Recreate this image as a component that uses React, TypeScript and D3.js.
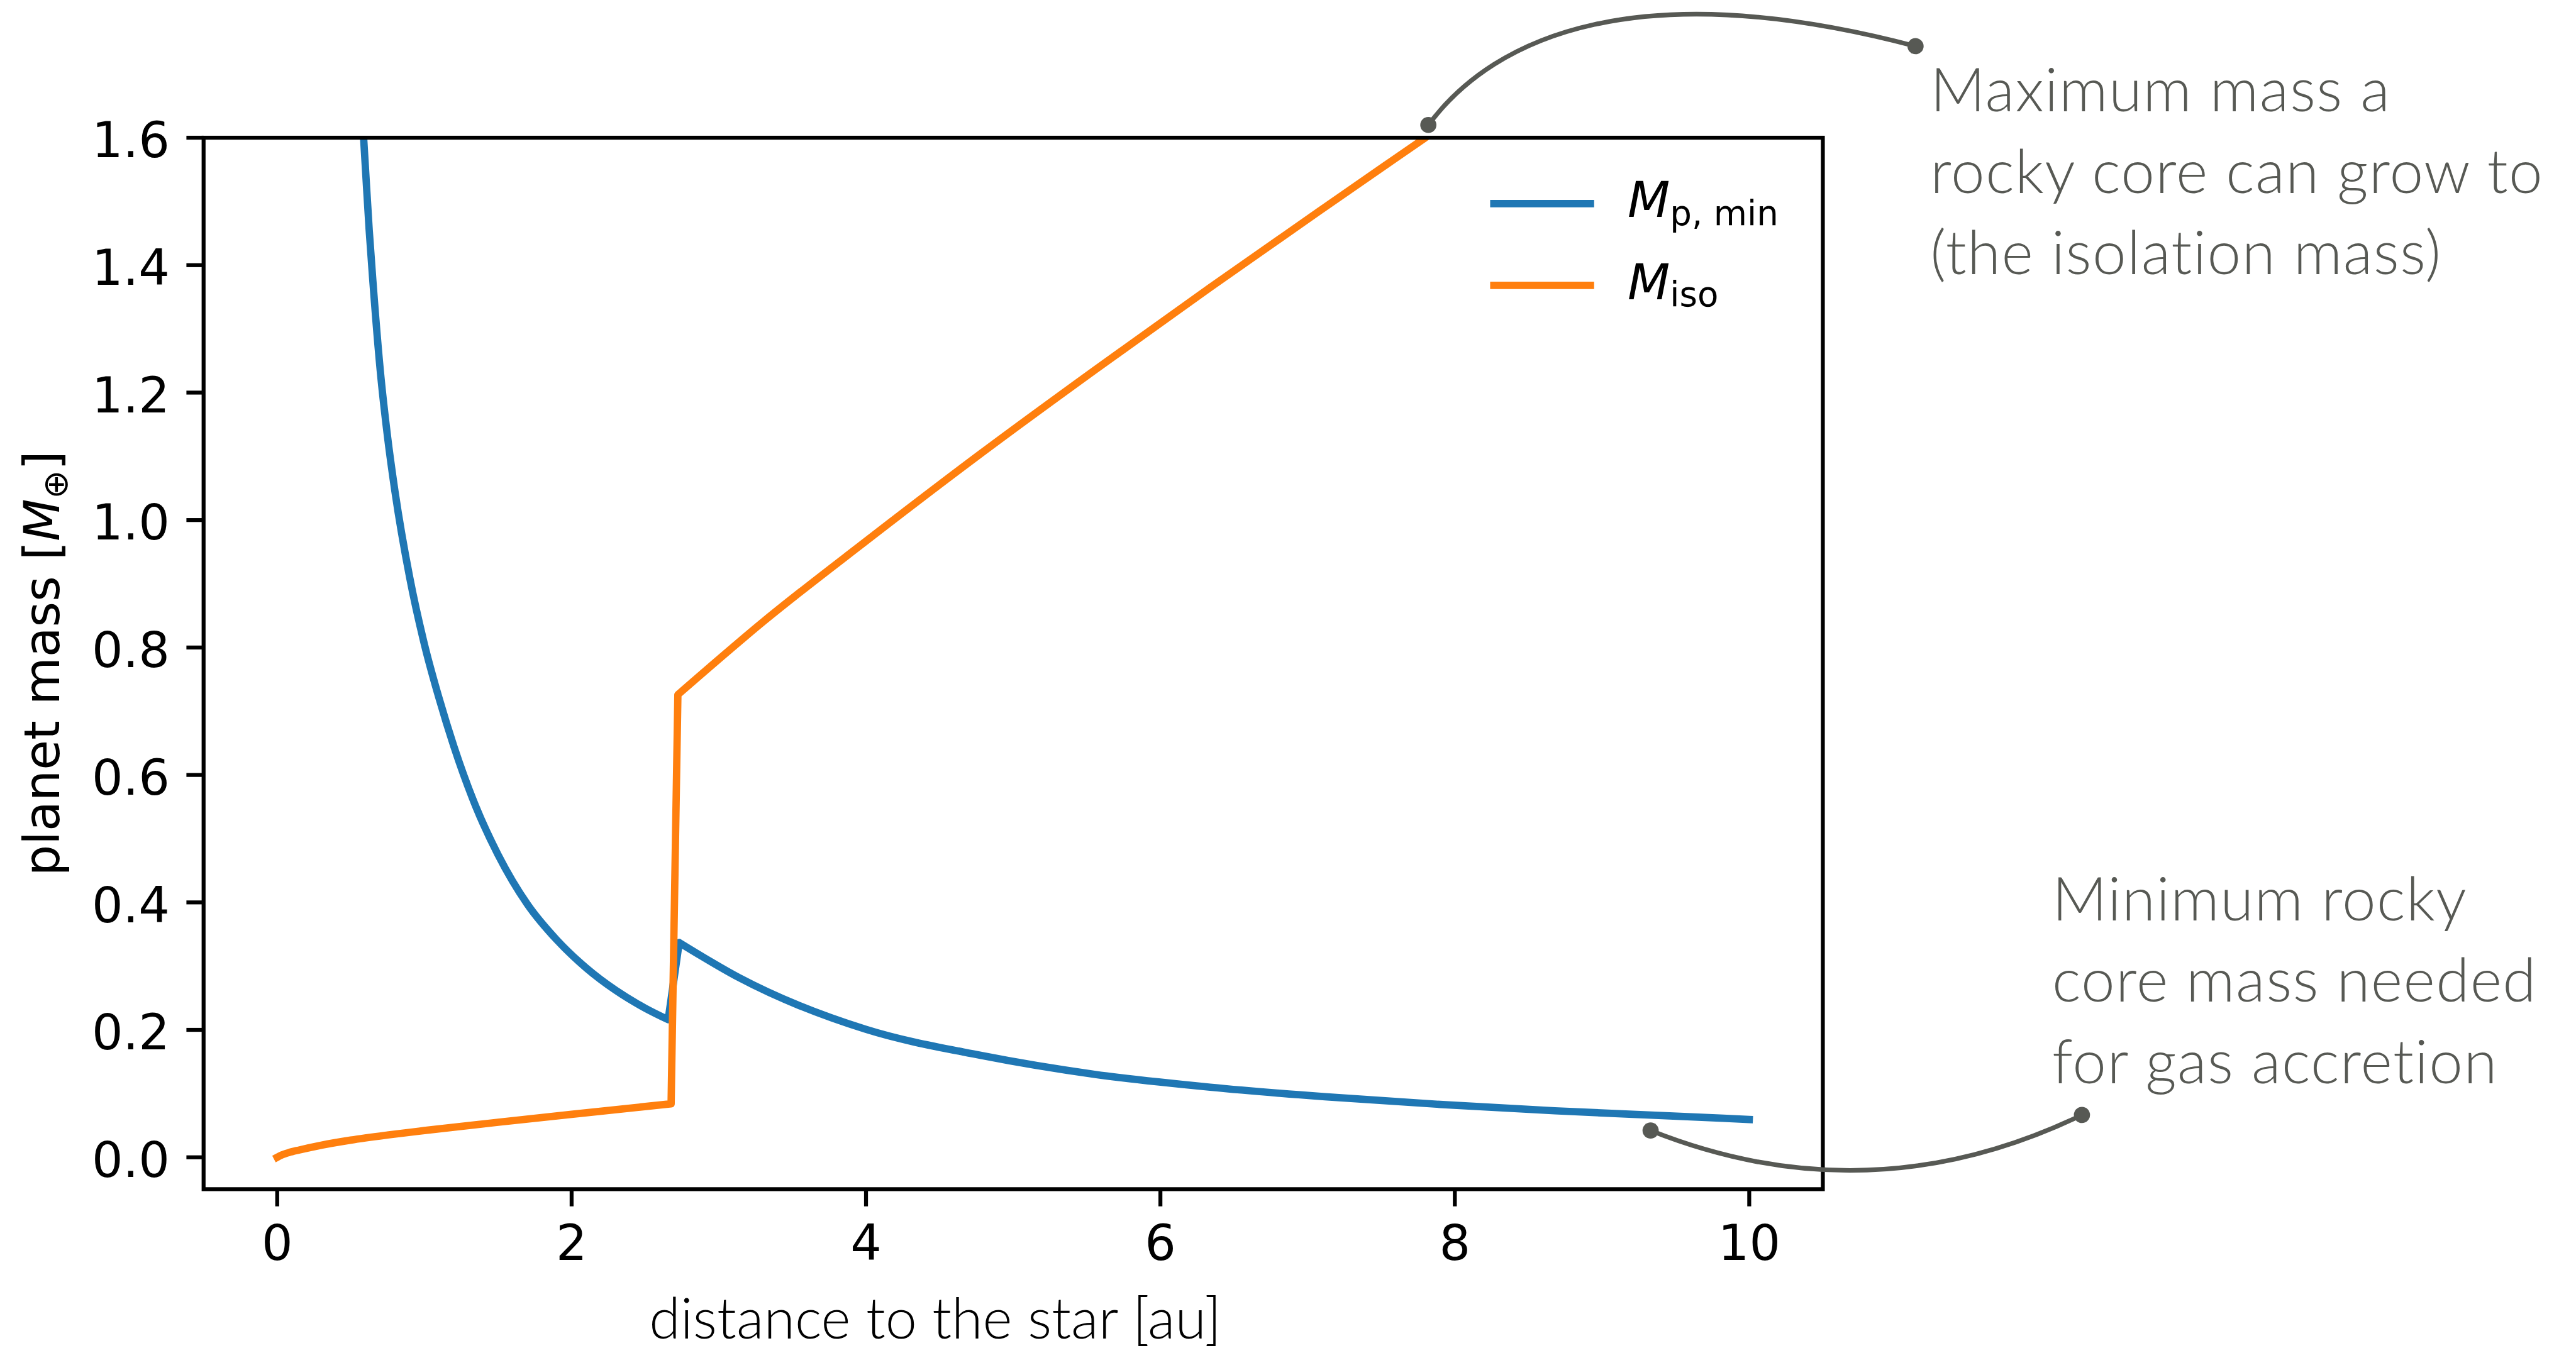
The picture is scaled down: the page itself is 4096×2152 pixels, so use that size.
import React from "react";
import * as d3 from "d3";

// Layout is authored in 4460 x 2343 figure units and scaled down to the 4096 x 2152 canvas.
const FIG_W = 4460;
const OUT_W = 4096;
const OUT_H = 2152;
const K = OUT_W / FIG_W;

// Minimum core mass for gas accretion, M_p,min [M_earth] vs distance [au]
const mpMinDistance = [
  0.587, 0.6, 0.625, 0.65, 0.7, 0.75, 0.8, 0.9, 1.0, 1.1, 1.2, 1.35, 1.5, 1.7, 1.9, 2.1, 2.3,
  2.5, 2.656,
  2.731, 3.137, 3.997, 4.778, 5.558, 6.338, 7.118, 7.899, 8.679, 9.459, 10.0,
];
const mpMinMass = [
  1.6, 1.55, 1.455, 1.375, 1.235, 1.13, 1.045, 0.91, 0.805, 0.72, 0.645, 0.55, 0.475, 0.397,
  0.341, 0.297, 0.262, 0.234, 0.216,
  0.337, 0.282, 0.201, 0.16, 0.13, 0.11, 0.095, 0.083, 0.073, 0.065, 0.0594,
];
const mpMinBranch = 19; // first sample beyond the snow line

// Isolation mass, M_iso [M_earth] vs distance [au]
const mIsoDistance = [
  0, 0.03, 0.08, 0.15, 0.3, 0.5, 0.75, 1.0, 1.5, 2.0, 2.676,
  2.722, 3.315, 4.0, 4.778, 5.558, 6.338, 7.118, 7.53, 7.8,
];
const mIsoMass = [
  0, 0.0035, 0.0075, 0.0115, 0.0190, 0.027, 0.035, 0.042, 0.055, 0.0675, 0.084,
  0.726, 0.843, 0.967, 1.104, 1.236, 1.365, 1.491, 1.557, 1.6,
];
const mIsoBranch = 11;

const xTicks = [0, 2, 4, 6, 8, 10];
const yTicks = [0, 0.2, 0.4, 0.6, 0.8, 1.0, 1.2, 1.4, 1.6];

const topNote = ["Maximum mass a", "rocky core can grow to", "(the isolation mass)"];
const bottomNote = ["Minimum rocky", "core mass needed", "for gas accretion"];

const BLUE = "#1f77b4";
const ORANGE = "#ff7f0e";
const GRAY = "#575954";

const PT = 8.5; // figure units per typographic point
const TICK_FONT = 10 * PT;
const NOTE_FONT = 105;
const NOTE_FAMILY = "Lato, 'Open Sans', sans-serif";

const AX = { left: 352.5, right: 3156, top: 238.5, bottom: 2059.5 };

const x = d3.scaleLinear().domain([-0.5, 10.5]).range([AX.left, AX.right]);
const y = d3.scaleLinear().domain([-0.05, 1.6]).range([AX.bottom, AX.top]);

const lineGen = d3
  .line<[number, number]>()
  .x((d) => x(d[0]))
  .y((d) => y(d[1]))
  .curve(d3.curveMonotoneX);

// Two smooth branches joined by a straight step at the snow line.
function branchPath(xs: number[], ys: number[], split: number): string {
  const pts = xs.map((v, i) => [v, ys[i]] as [number, number]);
  const inner = lineGen(pts.slice(0, split)) || "";
  const outer = lineGen(pts.slice(split)) || "";
  return inner + outer.replace(/^M/, "L");
}

// Annotation anchors: data point -> note
const topAnchor: [number, number] = [7.82, 1.62];
const bottomAnchor: [number, number] = [9.33, 0.042];
const topNoteDot = [3316.5, 80];
const bottomNoteDot = [3604.6, 1931];

export default function App() {
  const tx = x(topAnchor[0]);
  const ty = y(topAnchor[1]);
  const bx = x(bottomAnchor[0]);
  const by = y(bottomAnchor[1]);

  const topConnector = `M${tx},${ty} C${tx + 117},${ty - 157} ${topNoteDot[0] - 476},${topNoteDot[1] - 125} ${topNoteDot[0]},${topNoteDot[1]}`;
  const bottomConnector = `M${bx},${by} Q${(bx + bottomNoteDot[0]) / 2 + 5},${(by + bottomNoteDot[1]) / 2 + 164} ${bottomNoteDot[0]},${bottomNoteDot[1]}`;

  const lineW = 1.5 * PT;
  const spineW = 0.8 * PT;
  const tickLen = 3.5 * PT;
  const tickPad = 3.5 * PT;

  return (
    <svg
      width={OUT_W}
      height={OUT_H}
      viewBox={`0 0 ${OUT_W} ${OUT_H}`}
      style={{ position: "absolute", left: 0, top: 0, background: "#ffffff" }}
    >
      <rect x={0} y={0} width={OUT_W} height={OUT_H} fill="#ffffff" />
      <g transform={`scale(${K})`}>
        <defs>
          <clipPath id="plot-area">
            <rect x={AX.left} y={AX.top} width={AX.right - AX.left} height={AX.bottom - AX.top} />
          </clipPath>
        </defs>

        {/* data lines */}
        <g clipPath="url(#plot-area)" fill="none" strokeLinejoin="round" strokeLinecap="square">
          <path d={branchPath(mpMinDistance, mpMinMass, mpMinBranch)} stroke={BLUE} strokeWidth={lineW} />
          <path d={branchPath(mIsoDistance, mIsoMass, mIsoBranch)} stroke={ORANGE} strokeWidth={lineW} />
        </g>

        {/* spines */}
        <rect
          x={AX.left}
          y={AX.top}
          width={AX.right - AX.left}
          height={AX.bottom - AX.top}
          fill="none"
          stroke="#000"
          strokeWidth={spineW}
          strokeLinejoin="miter"
        />

        {/* axes */}
        <g fontFamily="'DejaVu Sans', sans-serif" fontSize={TICK_FONT} fill="#000">
          {xTicks.map((t) => (
            <g key={`xt${t}`}>
              <line x1={x(t)} x2={x(t)} y1={AX.bottom} y2={AX.bottom + tickLen} stroke="#000" strokeWidth={spineW} />
              <text x={x(t)} y={AX.bottom + tickLen + tickPad + 63} textAnchor="middle">
                {t}
              </text>
            </g>
          ))}
          {yTicks.map((t) => (
            <g key={`yt${t}`}>
              <line x1={AX.left - tickLen} x2={AX.left} y1={y(t)} y2={y(t)} stroke="#000" strokeWidth={spineW} />
              <text x={AX.left - tickLen - tickPad + 1} y={y(t) + 34} textAnchor="end">
                {t.toFixed(1)}
              </text>
            </g>
          ))}
          <text transform={`translate(102, ${(AX.top + AX.bottom) / 2}) rotate(-90)`} textAnchor="middle">
            planet mass [<tspan fontStyle="italic">M</tspan>
            <tspan fontSize={TICK_FONT * 0.7} dy={14}>⊕</tspan>
            <tspan dy={-14}>]</tspan>
          </text>
        </g>

        <text x={1124} y={2318} fontFamily={NOTE_FAMILY} fontWeight={300} fontSize={98} fill="#000">
          distance to the star [au]
        </text>

        {/* legend */}
        <g fontFamily="'DejaVu Sans', sans-serif" fontSize={TICK_FONT} fill="#000">
          <line x1={2580} x2={2760} y1={352.7} y2={352.7} stroke={BLUE} strokeWidth={lineW} />
          <line x1={2580} x2={2760} y1={494.3} y2={494.3} stroke={ORANGE} strokeWidth={lineW} />
          <text x={2818} y={376}>
            <tspan fontStyle="italic">M</tspan>
            <tspan fontSize={TICK_FONT * 0.7} dy={14}>p, min</tspan>
          </text>
          <text x={2818} y={518}>
            <tspan fontStyle="italic">M</tspan>
            <tspan fontSize={TICK_FONT * 0.7} dy={12}>iso</tspan>
          </text>
        </g>

        {/* annotations */}
        <g fill="none" stroke={GRAY} strokeWidth={8} strokeLinecap="round">
          <path d={topConnector} />
          <path d={bottomConnector} />
        </g>
        <g fill={GRAY}>
          <circle cx={tx} cy={ty} r={14} />
          <circle cx={topNoteDot[0]} cy={topNoteDot[1]} r={14} />
          <circle cx={bx} cy={by} r={14} />
          <circle cx={bottomNoteDot[0]} cy={bottomNoteDot[1]} r={14} />
        </g>
        <g fontFamily={NOTE_FAMILY} fontWeight={300} fontSize={NOTE_FONT} fill={GRAY} letterSpacing={1.5}>
          {topNote.map((s, i) => (
            <text key={s} x={3342} y={193 + i * 141}>
              {s}
            </text>
          ))}
          {bottomNote.map((s, i) => (
            <text key={s} x={3553} y={1594 + i * 141}>
              {s}
            </text>
          ))}
        </g>
      </g>
    </svg>
  );
}
